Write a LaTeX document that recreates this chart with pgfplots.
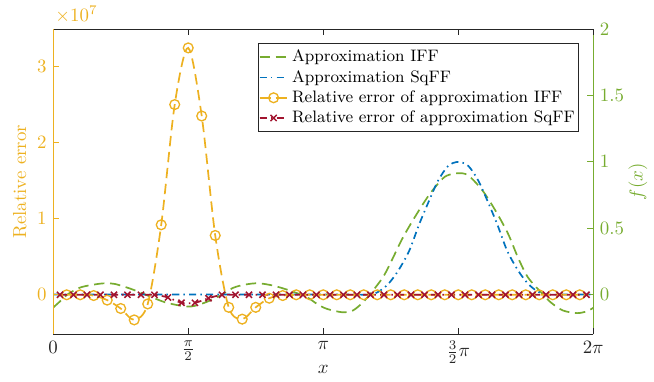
\documentclass[border=0pt]{standalone}
\usepackage{pgfplots}
\pgfplotsset{compat=1.18}
\definecolor{myyellow}{RGB}{237,177,32}
\definecolor{mygreen}{RGB}{119,172,48}
\definecolor{myblue}{RGB}{0,114,189}
\definecolor{myred}{RGB}{162,20,47}
\definecolor{mygray}{RGB}{38,38,38}
\begin{document}
\begin{tikzpicture}
\pgfplotsset{
  common/.style={
    width=286.2pt, height=161.7pt, scale only axis,
    xmin=0, xmax=6.283185,
    major tick length=3.2pt,
    tick align=inside,
    axis line style={line width=0.6pt},
    every tick/.append style={line width=0.6pt},
  },
  legend image code/.code={\draw[mark repeat=2,mark phase=2,#1] plot coordinates {(0pt,0pt) (7.4pt,0pt) (14.8pt,0pt)};},
}
% right axis: approximations f(x)
\begin{axis}[common, name=axr,
  axis x line=none, axis y line*=right,
  xtick=\empty,
  ymin=-0.3, ymax=2, ytick={0,0.5,1,1.5,2},
  ytick pos=right, yticklabel pos=right,
  y axis line style={draw=mygreen},
  ytick style={draw=mygreen},
  yticklabel style={text=mygreen},
  ylabel={$f(x)$},
  ylabel style={text=mygreen, at={(axis description cs:1.0828,0.5)}, anchor=center},
]
\addplot[mygreen, line width=0.9pt, dash pattern=on 5.5pt off 3pt, smooth] coordinates {
(0,-0.098) (0.078,-0.052) (0.171,0.003) (0.322,0.055) (0.520,0.08) (0.613,0.085) (0.718,0.08) (0.904,0.043) (1.102,-0.008) (1.300,-0.058) (1.474,-0.083) (1.571,-0.09) (1.649,-0.085) (1.788,-0.055) (1.940,-0.008) (2.091,0.05) (2.231,0.075) (2.382,0.085) (2.556,0.068) (2.754,0.03) (2.952,-0.02) (3.068,-0.07) (3.185,-0.108) (3.371,-0.134) (3.487,-0.12) (3.604,-0.058) (3.720,0.03) (3.836,0.13) (3.918,0.23) (4.069,0.43) (4.232,0.61) (4.383,0.76) (4.534,0.876) (4.616,0.905) (4.712,0.915) (4.825,0.9) (4.988,0.79) (5.139,0.64) (5.291,0.46) (5.407,0.28) (5.523,0.13) (5.686,0.01) (5.791,-0.06) (5.931,-0.12) (6.094,-0.14) (6.210,-0.126) (6.2832,-0.10)
};
\addplot[myblue, line width=0.9pt, dash pattern=on 3.8pt off 2.2pt on 0.8pt off 2.2pt, smooth] coordinates {
(0,0) (1,0) (2,0) (3,0) (3.5,0) (3.688,0) (3.781,0.02) (3.898,0.08) (4.014,0.18) (4.142,0.33) (4.258,0.53) (4.375,0.71) (4.479,0.86) (4.596,0.97) (4.712,1.0) (4.829,0.97) (4.945,0.86) (5.050,0.71) (5.166,0.53) (5.282,0.33) (5.410,0.18) (5.527,0.08) (5.643,0.02) (5.736,0) (5.9,0) (6.2832,0)
};
\end{axis}
% left axis: relative errors
\begin{axis}[common, name=ax,
  axis x line*=box, axis y line*=left,
  x axis line style={draw=mygray}, y axis line style={draw=myyellow},
  xtick={0,1.570796,3.141593,4.712389,6.283185},
  xticklabels={$0$,$\frac{\pi}{2}$,$\pi$,$\frac{3}{2}\pi$,$2\pi$},
  xtick pos=both,
  xtick style={draw=mygray}, xticklabel style={text=mygray},
  xlabel={$x$},
  xlabel style={text=mygray, at={(axis description cs:0.5,-0.1138)}, anchor=center},
  ymin=-0.52e7, ymax=3.49e7, ytick={0,1e7,2e7,3e7},
  scaled y ticks=base 10:-7, tick scale binop=\times,
  ytick pos=left,
  ytick style={draw=myyellow}, yticklabel style={text=myyellow},
  ylabel={Relative error},
  ylabel style={text=myyellow, at={(axis description cs:-0.0617,0.5)}, anchor=center},
  every y tick scale label/.style={at={(rel axis cs:0,1)}, anchor=south west, inner sep=1pt, yshift=2pt, text=myyellow},
  legend style={at={(axis description cs:0.9735,0.956)}, anchor=north east, draw=mygray, line width=0.5pt, fill=white, font=\fontsize{8.8}{10}\selectfont, inner xsep=0pt, inner ysep=1.5pt, row sep=-1pt},
  legend cell align=left,
]
\addlegendimage{mygreen, line width=0.9pt, dash pattern=on 5.5pt off 3pt}
\addlegendentry{Approximation IFF}
\addlegendimage{myblue, line width=0.9pt, dash pattern=on 3.8pt off 2.2pt on 0.8pt off 2.2pt}
\addlegendentry{Approximation SqFF}
\addplot[myyellow, line width=0.9pt, dash pattern=on 5.5pt off 3pt, smooth, mark=o, mark size=2.6pt, mark options={solid, line width=0.7pt}] coordinates {
(0.1571,0) (0.3142,0) (0.4712,-0.01e7) (0.6283,-0.07e7) (0.7854,-0.18e7) (0.9425,-0.33e7) (1.0996,-0.12e7) (1.2566,0.92e7) (1.4137,2.50e7) (1.5708,3.245e7) (1.7279,2.35e7) (1.8850,0.78e7) (2.0420,-0.165e7) (2.1991,-0.32e7) (2.3562,-0.165e7) (2.5133,-0.045e7) (2.6704,-0.01e7) (2.8274,0) (2.9845,0) (3.1416,0) (3.2987,0) (3.4558,0) (3.6128,0) (3.7699,0) (3.9270,0) (4.0841,0) (4.2412,0) (4.3982,0) (4.5553,0) (4.7124,0) (4.8695,0) (5.0265,0) (5.1836,0) (5.3407,0) (5.4978,0) (5.6549,0) (5.8119,0) (5.9690,0) (6.1261,0)
};
\addlegendentry{Relative error of approximation IFF}
\addplot[myred, line width=0.9pt, dash pattern=on 3.8pt off 2.2pt on 0.8pt off 2.2pt, smooth, mark=x, mark size=2.3pt, mark options={solid, line width=0.8pt}] coordinates {
(0.0785,0) (0.2356,0) (0.3927,0) (0.5498,0) (0.7069,0) (0.8639,0) (1.0210,0) (1.1781,0) (1.3352,-0.035e7) (1.4923,-0.105e7) (1.6493,-0.105e7) (1.8064,-0.045e7) (1.9635,0) (2.1206,0) (2.2777,0) (2.4347,0) (2.5918,0) (2.7489,0) (2.9060,0) (3.0631,0) (3.2201,0) (3.3772,0) (3.5343,0) (3.6914,0) (3.8485,0) (4.0055,0) (4.1626,0) (4.3197,0) (4.4768,0) (4.6339,0) (4.7909,0) (4.9480,0) (5.1051,0) (5.2622,0) (5.4193,0) (5.5763,0) (5.7334,0) (5.8905,0) (6.0476,0) (6.2047,0)
};
\addlegendentry{Relative error of approximation SqFF}
\end{axis}
\pgfresetboundingbox
\path[use as bounding box] ([shift={(-28.2pt,-24.75pt)}]ax.south west) rectangle ([shift={(32.2pt,15.5pt)}]ax.north east);
\end{tikzpicture}
\end{document}
